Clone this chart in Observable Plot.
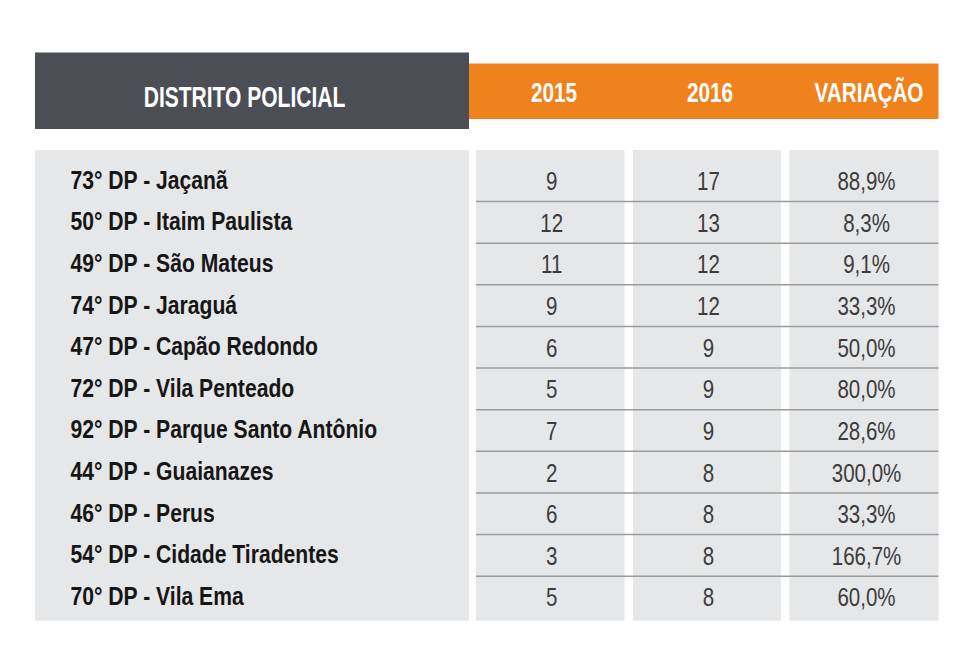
<!DOCTYPE html>
<html>
<head>
<meta charset="utf-8">
<script src="https://cdn.jsdelivr.net/npm/d3@7"></script>
<script src="https://cdn.jsdelivr.net/npm/@observablehq/plot@0.6"></script>
<style>
  html, body { margin: 0; padding: 0; background: #ffffff; }
  #chart svg { display: block; }
</style>
</head>
<body>
<div id="chart"></div>
<script>
// ---- data ----
const headers = ["DISTRITO POLICIAL", "2015", "2016", "VARIAÇÃO"];
const districts = [
  "73° DP - Jaçanã",
  "50° DP - Itaim Paulista",
  "49° DP - São Mateus",
  "74° DP - Jaraguá",
  "47° DP - Capão Redondo",
  "72° DP - Vila Penteado",
  "92° DP - Parque Santo Antônio",
  "44° DP - Guaianazes",
  "46° DP - Perus",
  "54° DP - Cidade Tiradentes",
  "70° DP - Vila Ema"
];
const v2015 = [9, 12, 11, 9, 6, 5, 7, 2, 6, 3, 5];
const v2016 = [17, 13, 12, 12, 9, 9, 9, 8, 8, 8, 8];
const variacao = [88.9, 8.3, 9.1, 33.3, 50.0, 80.0, 28.6, 300.0, 33.3, 166.7, 60.0];

// ---- layout (styling, kept apart from data) ----
const W = 973, H = 665;
const C = {
  dark: "#4b4e55", orange: "#f0821d", panel: "#e6e7e9",
  rule: "#9b9b9b", label: "#161616", num: "#3c3c3c"
};
const FONT = "'Liberation Sans', Arial, Helvetica, sans-serif";
const leftCol = {x1: 35, x2: 469};
const numCols = [{x1: 476, x2: 624.5}, {x1: 633, x2: 781}, {x1: 789.5, x2: 938.5}];
const darkBox = {x1: 35, x2: 469, y1: 52.5, y2: 129};
const orangeBox = {x1: 468, x2: 938.5, y1: 63.5, y2: 119};
const bodyTop = 150, bodyBottom = 620.6;
const rowScale = d3.scaleBand().domain(districts).range([159.4, 617.3]);
const rowMid = d => rowScale(d) + rowScale.bandwidth() / 2;
const colMid = c => (c.x1 + c.x2) / 2;
const fmtPct = v => v.toFixed(1).replace(".", ",") + "%";

const rows = districts.map((d, i) => ({
  district: d, y2015: v2015[i], y2016: v2016[i], varPct: variacao[i]
}));

const chart = Plot.plot({
  width: W, height: H, margin: 0,
  x: {type: "linear", domain: [0, W], range: [0, W], axis: null},
  y: {type: "linear", domain: [0, H], range: [0, H], axis: null},
  style: {background: "#ffffff"},
  marks: [
    // body panels
    Plot.rect([leftCol], {x1: "x1", x2: "x2", y1: bodyTop, y2: bodyBottom, fill: C.panel}),
    Plot.rect(numCols, {x1: "x1", x2: "x2", y1: bodyTop, y2: bodyBottom, fill: C.panel}),
    // row dividers across the number columns
    Plot.ruleY(districts.slice(1), {
      y: d => rowScale(d), x1: numCols[0].x1, x2: numCols[2].x2,
      stroke: C.rule, strokeWidth: 1.5
    }),
    // header boxes
    Plot.rect([orangeBox], {x1: "x1", x2: "x2", y1: "y1", y2: "y2", fill: C.orange}),
    Plot.rect([darkBox], {x1: "x1", x2: "x2", y1: "y1", y2: "y2", fill: C.dark}),
    // header texts
    Plot.text([headers[0]], {
      x: 244, y: 96.5, text: d => d, ariaDescription: "sq-hdr-dark",
      fill: "#ffffff", fontSize: 30, fontWeight: "bold", fontFamily: FONT
    }),
    Plot.text(headers.slice(1), {
      x: (d, i) => [553.5, 709.5, 868.5][i], y: 92.5, text: d => d, ariaDescription: "sq-hdr-orange",
      fill: "#ffffff", fontSize: 28, fontWeight: "bold", fontFamily: FONT
    }),
    // district labels
    Plot.text(rows, {
      x: 70, y: d => rowMid(d.district), text: "district", textAnchor: "start", ariaDescription: "sq-label",
      fill: C.label, fontSize: 25, fontWeight: "bold", fontFamily: FONT
    }),
    // values
    Plot.text(rows, {
      x: colMid(numCols[0]) + 1, y: d => rowMid(d.district) + 1.5, text: d => String(d.y2015), ariaDescription: "sq-num",
      fill: C.num, fontSize: 25, fontFamily: FONT
    }),
    Plot.text(rows, {
      x: colMid(numCols[1]) + 1, y: d => rowMid(d.district) + 1.5, text: d => String(d.y2016), ariaDescription: "sq-num",
      fill: C.num, fontSize: 25, fontFamily: FONT
    }),
    Plot.text(rows, {
      x: colMid(numCols[2]) + 2, y: d => rowMid(d.district) + 1.5, text: d => fmtPct(d.varPct), ariaDescription: "sq-num",
      fill: C.num, fontSize: 25, fontFamily: FONT
    })
  ]
});
document.getElementById("chart").appendChild(chart);

// condensed look: compress glyph widths of each text group
const squeeze = {"sq-hdr-dark": 0.70, "sq-hdr-orange": 0.74, "sq-label": 0.845, "sq-num": 0.82};
for (const [key, f] of Object.entries(squeeze)) {
  chart.querySelectorAll(`g[aria-description="${key}"] text`).forEach(t => {
    const w = t.getComputedTextLength();
    t.setAttribute("textLength", (w * f).toFixed(2));
    t.setAttribute("lengthAdjust", "spacingAndGlyphs");
  });
}
</script>
</body>
</html>
